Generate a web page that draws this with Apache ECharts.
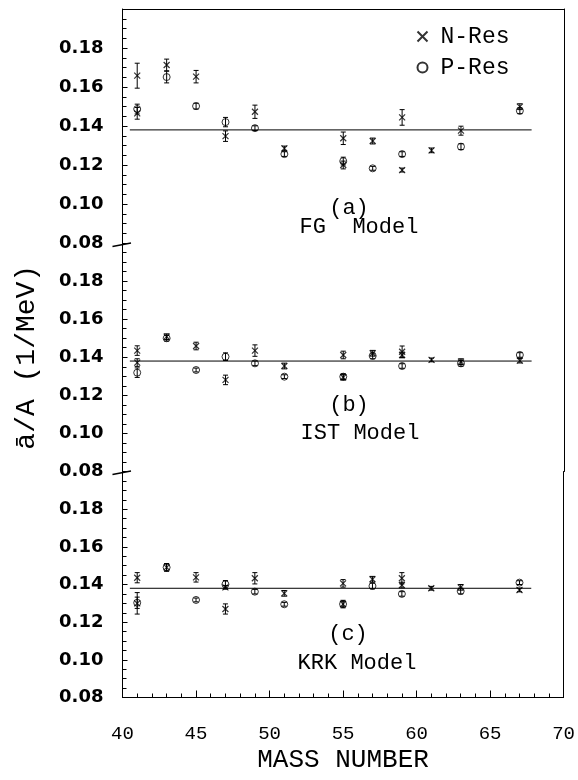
<!DOCTYPE html>
<html><head><meta charset="utf-8">
<script src="https://cdn.jsdelivr.net/npm/echarts/dist/echarts.min.js"></script>
<style>html,body{margin:0;padding:0;background:#fff}#c{width:578px;height:780px}</style>
</head><body><div id="c"></div><script>
// ---- data: [mass number, a/A, error] ----
const fgN = [[41,0.1658,0.0064],[41,0.1465,0.0030],[43,0.1713,0.0030],[45,0.1653,0.0032],[47,0.1348,0.0027],[49,0.1473,0.0034],[51,0.1285,0.0012],[55,0.1337,0.0032],[55,0.1200,0.0020],[57,0.1323,0.0015],[59,0.1444,0.0040],[59,0.1174,0.0010],[61,0.1275,0.0012],[63,0.1376,0.0023],[67,0.1499,0.0015]];
const fgP = [[41,0.1487,0.0025],[43,0.1651,0.0030],[45,0.1502,0.0015],[47,0.1420,0.0024],[49,0.1389,0.0012],[51,0.1256,0.0012],[55,0.1220,0.0020],[57,0.1183,0.0010],[59,0.1256,0.0012],[63,0.1294,0.0015],[67,0.1478,0.0015]];
const istN = [[41,0.1435,0.0025],[41,0.1372,0.0020],[43,0.1508,0.0015],[45,0.1459,0.0020],[47,0.1281,0.0025],[49,0.1435,0.0030],[51,0.1354,0.0015],[55,0.1412,0.0020],[55,0.1295,0.0015],[57,0.1421,0.0015],[59,0.1429,0.0030],[59,0.1412,0.0015],[61,0.1386,0.0010],[63,0.1377,0.0015],[67,0.1382,0.0012]];
const istP = [[41,0.1319,0.0025],[43,0.1500,0.0015],[45,0.1333,0.0010],[47,0.1403,0.0020],[49,0.1368,0.0012],[51,0.1298,0.0010],[55,0.1298,0.0015],[57,0.1407,0.0015],[59,0.1354,0.0012],[63,0.1368,0.0015],[67,0.1412,0.0012]];
const krkN = [[41,0.1436,0.0027],[41,0.1300,0.0057],[43,0.1491,0.0020],[45,0.1438,0.0025],[47,0.1270,0.0027],[47,0.1385,0.0010],[49,0.1433,0.0030],[51,0.1353,0.0015],[55,0.1406,0.0020],[55,0.1296,0.0020],[57,0.1428,0.0015],[59,0.1433,0.0030],[59,0.1397,0.0015],[61,0.1380,0.0010],[63,0.1385,0.0015],[67,0.1371,0.0010]];
const krkP = [[41,0.1303,0.0030],[43,0.1491,0.0020],[45,0.1318,0.0010],[47,0.1401,0.0020],[49,0.1362,0.0012],[51,0.1295,0.0010],[55,0.1296,0.0015],[57,0.1392,0.0015],[59,0.1350,0.0012],[63,0.1365,0.0015],[67,0.1410,0.0010]];
const refLine = [[40.5,0.138],[67.8,0.138]];
const panelLabels = [['(a)','FG  Model'],['(b)','IST Model'],['(c)','KRK Model']];
const xRange = [40,70,5];
const yRange = [0.08,0.20,0.02];

const panels = [[fgN,fgP],[istN,istP],[krkN,krkP]];
const grids = [
  {left:122.5,right:14,top:9,height:234},
  {left:122.5,right:14,top:243,height:228.5},
  {left:122.5,right:14,top:471.5,height:226}
];
const monoFont = 'Liberation Mono';
const black = '#000';

function errRender(params, api){
  const x = api.value(0), v = api.value(1), e = api.value(2);
  const t = api.coord([x, v+e]), b = api.coord([x, v-e]);
  const cw = 2.5, st = {stroke:black,lineWidth:1};
  return {type:'group',children:[
    {type:'line',shape:{x1:t[0],y1:t[1],x2:b[0],y2:b[1]},style:st},
    {type:'line',shape:{x1:t[0]-cw,y1:t[1],x2:t[0]+cw,y2:t[1]},style:st},
    {type:'line',shape:{x1:b[0]-cw,y1:b[1],x2:b[0]+cw,y2:b[1]},style:st}
  ]};
}

const xAxes = [], yAxes = [], series = [];
grids.forEach((g,i)=>{
  const isBottom = i===2;
  xAxes.push({
    gridIndex:i,type:'value',min:xRange[0],max:xRange[1],interval:xRange[2],
    show:true,
    axisLine:{show:isBottom,lineStyle:{color:black,width:1}},
    axisTick:{show:isBottom,inside:true,length:7,lineStyle:{color:black}},
    minorTick:{show:isBottom,splitNumber:5,length:4,lineStyle:{color:black}},
    axisLabel:{show:isBottom,margin:27,color:black,fontFamily:monoFont,fontSize:19},
    splitLine:{show:false},
    name:isBottom?'MASS NUMBER':'',nameLocation:'middle',nameGap:50,
    nameTextStyle:{color:black,fontFamily:monoFont,fontSize:26}
  });
  if(i===0){
    xAxes.push({gridIndex:0,type:'value',position:'top',min:xRange[0],max:xRange[1],interval:xRange[2],
      axisLine:{show:true,lineStyle:{color:black}},axisTick:{show:false},axisLabel:{show:false},splitLine:{show:false}});
  }
  yAxes.push({
    gridIndex:i,type:'value',min:yRange[0],max:yRange[1],interval:yRange[2],position:'left',
    axisLine:{show:true,lineStyle:{color:black,width:1}},
    axisTick:{show:true,inside:true,length:5,lineStyle:{color:black}},
    minorTick:{show:true,splitNumber:4,length:4,lineStyle:{color:black}},
    axisLabel:{show:true,showMaxLabel:false,margin:19,color:black,fontFamily:'DejaVu Sans',fontWeight:'bold',fontSize:18,
      formatter:v=>v.toFixed(2)},
    splitLine:{show:false},
    name:i===1?'ā/A (1/MeV)':'',nameLocation:'middle',nameGap:82,
    nameTextStyle:{color:black,fontFamily:monoFont,fontSize:28}
  });
  yAxes.push({
    gridIndex:i,type:'value',min:yRange[0],max:yRange[1],interval:yRange[2],position:'right',
    axisLine:{show:true,lineStyle:{color:black,width:1}},axisTick:{show:false},axisLabel:{show:false},splitLine:{show:false}
  });
});
const xIdx = [0,2,3];
const yIdx = [0,2,4];
panels.forEach((p,i)=>{
  const [nData,pData] = p;
  series.push({type:'line',name:'ref'+i,xAxisIndex:xIdx[i],yAxisIndex:yIdx[i],data:refLine,symbol:'none',
    lineStyle:{color:black,width:1},silent:true,animation:false});
  series.push({type:'custom',name:'errN'+i,xAxisIndex:xIdx[i],yAxisIndex:yIdx[i],data:nData,renderItem:errRender,
    encode:{x:0,y:1},animation:false,silent:true});
  series.push({type:'custom',name:'errP'+i,xAxisIndex:xIdx[i],yAxisIndex:yIdx[i],data:pData,renderItem:errRender,
    encode:{x:0,y:1},animation:false,silent:true});
  series.push({type:'scatter',name:'N-Res',xAxisIndex:xIdx[i],yAxisIndex:yIdx[i],data:nData.map(d=>[d[0],d[1]]),
    symbol:'path://M0,0L10,10M10,0L0,10',symbolSize:6,
    itemStyle:{color:'none',borderColor:black,borderWidth:1.2},animation:false});
  series.push({type:'scatter',name:'P-Res',xAxisIndex:xIdx[i],yAxisIndex:yIdx[i],data:pData.map(d=>[d[0],d[1]]),
    symbol:'circle',symbolSize:7,
    itemStyle:{color:'rgba(255,255,255,0)',borderColor:black,borderWidth:1},animation:false});
});

const annCenters = [[349,208,359,227],[349,405,360,433],[348,634,357,663]];
const graphic = [];
panelLabels.forEach((lab,i)=>{
  const c = annCenters[i];
  graphic.push({type:'text',x:c[0],y:c[1],style:{text:lab[0],font:'22px "Liberation Mono"',fill:black,
    align:'center',verticalAlign:'middle',textAlign:'center',textVerticalAlign:'middle'}});
  graphic.push({type:'text',x:c[2],y:c[3],style:{text:lab[1],font:'22px "Liberation Mono"',fill:black,
    align:'center',verticalAlign:'middle',textAlign:'center',textVerticalAlign:'middle'}});
});
graphic.push({type:'line',shape:{x1:112.5,y1:246.5,x2:131,y2:243},style:{stroke:black,lineWidth:1.5}});
graphic.push({type:'line',shape:{x1:112.5,y1:474.5,x2:131,y2:471},style:{stroke:black,lineWidth:1.5}});

const chart = echarts.init(document.getElementById('c'),null,{renderer:'canvas'});
chart.setOption({
  backgroundColor:'#fff',
  animation:false,
  grid:grids,
  xAxis:xAxes,
  yAxis:yAxes,
  legend:{data:['N-Res','P-Res'],orient:'vertical',left:410,top:20,itemWidth:10,itemHeight:10,itemGap:8,
    textStyle:{color:black,fontFamily:monoFont,fontSize:23,padding:[0,0,0,8]}},
  graphic:graphic,
  series:series
});
</script></body></html>
